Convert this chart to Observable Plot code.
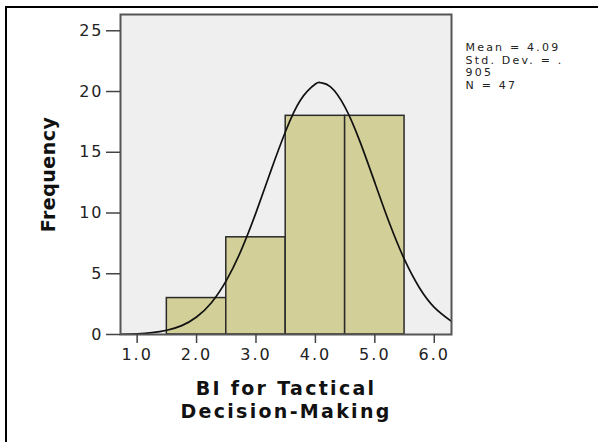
<!DOCTYPE html>
<html>
<head>
<meta charset="utf-8">
<script src="https://cdn.jsdelivr.net/npm/d3@7"></script>
<script src="https://cdn.jsdelivr.net/npm/@observablehq/plot@0.6"></script>
<style>
  html, body { margin: 0; padding: 0; background: #fff; }
  #wrap { position: relative; width: 598px; height: 442px; overflow: hidden; }
  #border { position: absolute; left: 5px; top: 6px; width: 600px; height: 460px;
            border-top: 2.5px solid #000; border-left: 2.5px solid #000; box-sizing: border-box; pointer-events: none; }
</style>
</head>
<body>
<div id="wrap"><div id="border"></div></div>
<script>
// Histogram bins (lower edge, upper edge) and frequencies
const binStart = [1.5, 2.5, 3.5, 4.5];
const binEnd = [2.5, 3.5, 4.5, 5.5];
const counts = [3, 8, 18, 18];

// Fitted normal curve
const curveX = [0.72, 1.0, 1.25, 1.5, 1.75, 2.0, 2.25, 2.5, 2.75, 3.0, 3.25, 3.5, 3.75, 4.0, 4.09, 4.25, 4.5, 4.75, 5.0, 5.25, 5.5, 5.75, 6.0, 6.29];
const curveY = [0.02, 0.06, 0.15, 0.35, 0.73, 1.44, 2.62, 4.43, 6.92, 10.03, 13.47, 16.75, 19.31, 20.62, 20.72, 20.40, 18.70, 15.88, 12.50, 9.11, 6.16, 3.85, 2.24, 1.08];

const xTicks = [1, 2, 3, 4, 5, 6];
const yTicks = [0, 5, 10, 15, 20, 25];
const xLabel = ["BI for Tactical\nDecision-Making"];
const yLabel = ["Frequency"];
const stats = ["Mean = 4.09\nStd. Dev. = .\n905\nN = 47"];

const bins = binStart.map((s, i) => ({x1: s, x2: binEnd[i], count: counts[i]}));
const curve = curveX.map((x, i) => ({x, y: curveY[i]}));

const chart = Plot.plot({
  width: 598,
  height: 442,
  marginLeft: 120,
  marginRight: 147,
  marginTop: 14,
  marginBottom: 108,
  style: {fontFamily: "DejaVu Sans", fontSize: "16px", color: "#222", background: "transparent"},
  x: {domain: [0.72, 6.29]},
  y: {domain: [0, 26.34]},
  marks: [
    Plot.frame({fill: "#efefef"}),
    Plot.rectY(bins, {x1: "x1", x2: "x2", y: "count", fill: "#d3cf99", stroke: "#2a2a2a", strokeWidth: 1.5}),
    Plot.line(curve, {x: "x", y: "y", curve: "natural", stroke: "#111", strokeWidth: 1.7, clip: true}),
    Plot.frame({stroke: "#555", strokeWidth: 2}),
    Plot.axisY({ticks: yTicks, tickSize: 14, tickPadding: 3, label: null, stroke: "#444", strokeWidth: 1.5, fill: "#222"}),
    Plot.axisX({ticks: xTicks, tickSize: 9, tickPadding: 5, label: null, tickFormat: d => d.toFixed(1), stroke: "#444", strokeWidth: 1.5, fill: "#222"}),
    Plot.text(yLabel, {text: d => d, frameAnchor: "left", textAnchor: "middle", rotate: -90, dx: -72, fontWeight: "bold", fontSize: 19, fill: "#111"}),
    Plot.text(xLabel, {text: d => d, frameAnchor: "bottom", lineAnchor: "top", dy: 45, fontWeight: "bold", fontSize: 19, lineHeight: 1.17, fill: "#111"}),
    Plot.text(stats, {text: d => d, frameAnchor: "top-right", textAnchor: "start", lineAnchor: "top", dx: 14, dy: 27, fontSize: 11, lineHeight: 1.17, fill: "#222"})
  ]
});

const svg = d3.select(chart);
svg.selectAll('g[aria-label="x-axis tick label"] text, g[aria-label="y-axis tick label"] text').style("letter-spacing", "2px");
svg.selectAll("text").each(function() {
  const t = this.textContent;
  if (t.includes("Decision") || t.includes("Tactical")) d3.select(this).style("letter-spacing", "2.3px");
  if (t.includes("Mean") || t.includes("Std")) d3.select(this).style("letter-spacing", "2.2px");
  if (t === "Frequency") d3.select(this).style("letter-spacing", "0.5px");
});
document.getElementById("wrap").insertBefore(chart, document.getElementById("border"));
</script>
</body>
</html>
